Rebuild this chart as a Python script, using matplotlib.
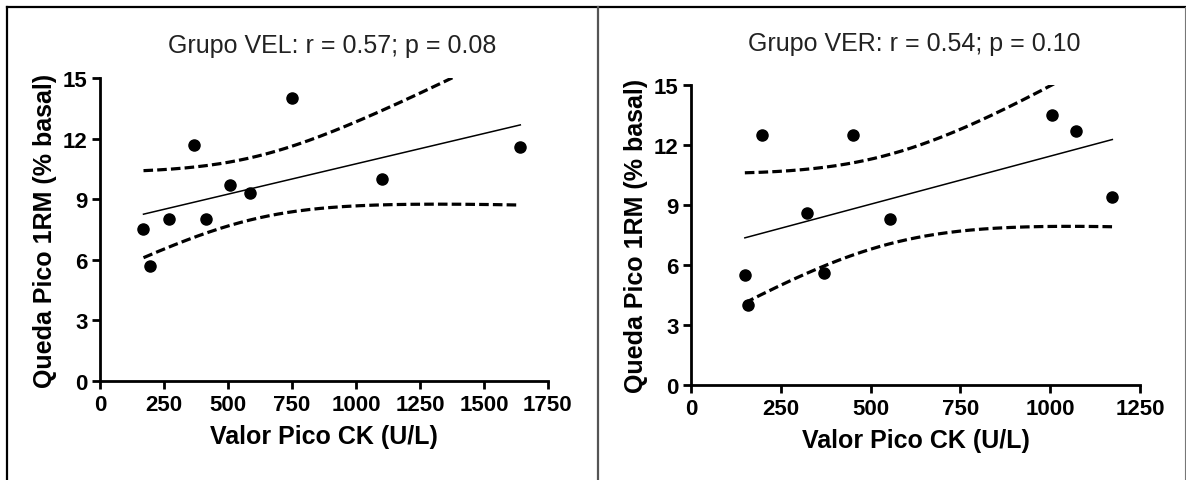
import numpy as np
import matplotlib.pyplot as plt
from matplotlib.lines import Line2D

plt.rcParams['font.family'] = ['Liberation Sans', 'DejaVu Sans']

# dados
ck_vel = [170, 196, 268, 366, 416, 508, 588, 749, 1101, 1642]
queda_vel = [7.5, 5.7, 8.0, 11.7, 8.0, 9.7, 9.3, 14.0, 10.0, 11.6]

ck_ver = [150, 160, 199, 322, 370, 451, 554, 1006, 1073, 1173]
queda_ver = [5.5, 4.0, 12.5, 8.6, 5.6, 12.5, 8.3, 13.5, 12.7, 9.4]

titulos = ['Grupo VEL: r = 0.57; p = 0.08', 'Grupo VER: r = 0.54; p = 0.10']
xticks_vel = [0, 250, 500, 750, 1000, 1250, 1500, 1750]
xticks_ver = [0, 250, 500, 750, 1000, 1250]
yticks = [0, 3, 6, 9, 12, 15]

T_CRIT = 2.306  # t(0.975, gl = 8)


def regressao(x, y):
    # reta de regressao e banda de confianca 95% da media
    x = np.array(x, float)
    y = np.array(y, float)
    n = len(x)
    b, a = np.polyfit(x, y, 1)
    res = y - (a + b * x)
    s = np.sqrt(np.sum(res ** 2) / (n - 2))
    sxx = np.sum((x - x.mean()) ** 2)
    xf = np.linspace(x.min(), x.max(), 200)
    yf = a + b * xf
    se = s * np.sqrt(1.0 / n + (xf - x.mean()) ** 2 / sxx)
    return xf, yf, yf - T_CRIT * se, yf + T_CRIT * se


fig = plt.figure(figsize=(11.86, 4.81), dpi=100)
ax1 = fig.add_axes([0.0843, 0.2058, 0.3777, 0.63])
ax2 = fig.add_axes([0.5826, 0.1975, 0.3786, 0.6237])

paineis = [(ax1, ck_vel, queda_vel, xticks_vel, titulos[0], 0.518, 1.11),
           (ax2, ck_ver, queda_ver, xticks_ver, titulos[1], 0.497, 1.14)]

for ax, x, y, xt, tit, tx, ty in paineis:
    xf, yf, lo, hi = regressao(x, y)
    ax.plot(xf, yf, '-', color='black', lw=1.1)
    ax.plot(xf, lo, color='black', lw=2.3, dashes=(3, 1.3))
    ax.plot(xf, hi, color='black', lw=2.3, dashes=(3, 1.3))
    ax.plot(x, y, 'o', color='black', ms=8)

    ax.set_xlim(0, xt[-1])
    ax.set_ylim(0, 15)
    ax.set_xticks(xt)
    ax.set_yticks(yticks)
    for s in ['top', 'right']:
        ax.spines[s].set_visible(False)
    for s in ['left', 'bottom']:
        ax.spines[s].set_linewidth(2)
    ax.tick_params(width=2, length=6, labelsize=16, pad=3)
    for lab in ax.get_xticklabels() + ax.get_yticklabels():
        lab.set_fontweight('bold')
    ax.set_xlabel('Valor Pico CK (U/L)', fontsize=18, fontweight='bold', labelpad=7)
    ax.set_ylabel('Queda Pico 1RM (% basal)', fontsize=18, fontweight='bold', labelpad=4)
    ax.text(tx, ty, tit, transform=ax.transAxes, ha='center', va='center',
            fontsize=18, color='#222222')

# moldura da tabela
fig.add_artist(Line2D([7 / 1186, 1], [1 - 7.5 / 481] * 2, color='black', lw=1.6))
fig.add_artist(Line2D([7 / 1186] * 2, [0, 1 - 7.5 / 481], color='black', lw=1.6))
fig.add_artist(Line2D([597.5 / 1186] * 2, [0, 1 - 7.5 / 481], color='#555555', lw=1.6))
fig.add_artist(Line2D([1184.5 / 1186] * 2, [0, 1 - 7.5 / 481], color='#777777', lw=0.8))

fig.savefig('out.png', dpi=100)
